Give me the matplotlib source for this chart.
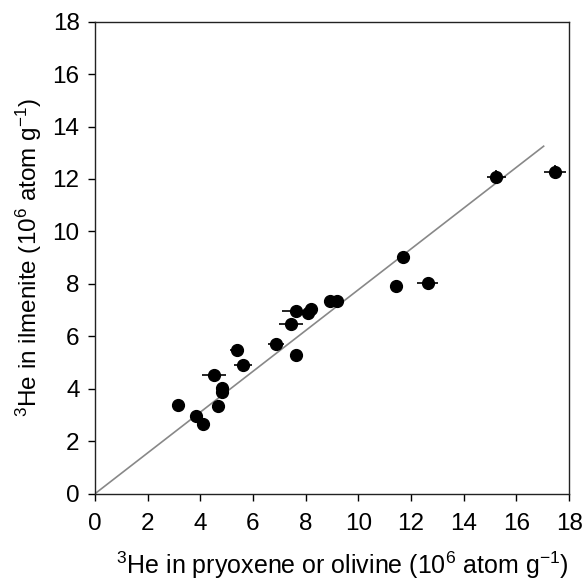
import matplotlib
matplotlib.use("Agg")
from matplotlib import pyplot as plt
import numpy as np

plt.rcParams["font.family"] = ["Liberation Sans", "DejaVu Sans"]
plt.rcParams["mathtext.fontset"] = "custom"
plt.rcParams["mathtext.rm"] = "Liberation Sans"
plt.rcParams["mathtext.it"] = "Liberation Sans"

# 3He concentrations (10^6 atom/g)
px = [3.15, 3.83, 4.12, 4.69, 4.52, 4.82, 4.82, 5.39, 5.63, 6.87, 7.43,
      7.62, 7.62, 8.09, 8.22, 8.93, 9.18, 11.42, 11.71, 12.64, 15.24, 17.46]
ilm = [3.37, 2.95, 2.67, 3.34, 4.52, 4.05, 3.88, 5.48, 4.92, 5.70, 6.48,
       6.95, 5.28, 6.88, 7.05, 7.34, 7.34, 7.93, 9.04, 8.04, 12.08, 12.27]
px_err = [0.1, 0.1, 0.1, 0.1, 0.45, 0.2, 0.2, 0.25, 0.35, 0.3, 0.45,
          0.5, 0.15, 0.15, 0.15, 0.25, 0.2, 0.2, 0.2, 0.4, 0.35, 0.4]
ilm_err = [0.05, 0.05, 0.05, 0.05, 0.05, 0.1, 0.1, 0.05, 0.05, 0.05, 0.05,
           0.05, 0.05, 0.05, 0.05, 0.05, 0.05, 0.05, 0.15, 0.05, 0.25, 0.25]

# regression line through origin
fit_x = [0, 17.03]
slope = 0.778

fig = plt.figure(figsize=(5.82, 5.83), dpi=100)
ax = fig.add_axes([0.163, 0.153, 0.815, 0.81])

ax.plot(fit_x, np.array(fit_x) * slope, color="#888888", lw=1.2, zorder=1)
ax.errorbar(px, ilm, xerr=px_err, yerr=ilm_err, fmt="o", color="black",
            ms=8.5, elinewidth=1.2, capsize=0, zorder=3)

ax.set_xlim(0, 18)
ax.set_ylim(0, 18)
ax.set_xticks(range(0, 19, 2))
ax.set_yticks(range(0, 19, 2))
ax.tick_params(direction="out", length=5, width=1, labelsize=17.5, pad=6,
               colors="black")
ax.tick_params(axis="x", pad=9)
for s in ax.spines.values():
    s.set_color("#222222")
    s.set_linewidth(1)

ax.set_xlabel(r"$^3$He in pryoxene or olivine (10$^6$ atom g$^{-1}$)",
              fontsize=18, loc="right", labelpad=10)
ax.set_ylabel(r"$^3$He in ilmenite (10$^6$ atom g$^{-1}$)", fontsize=17.5,
              labelpad=6)

fig.savefig("out.png", dpi=100)
